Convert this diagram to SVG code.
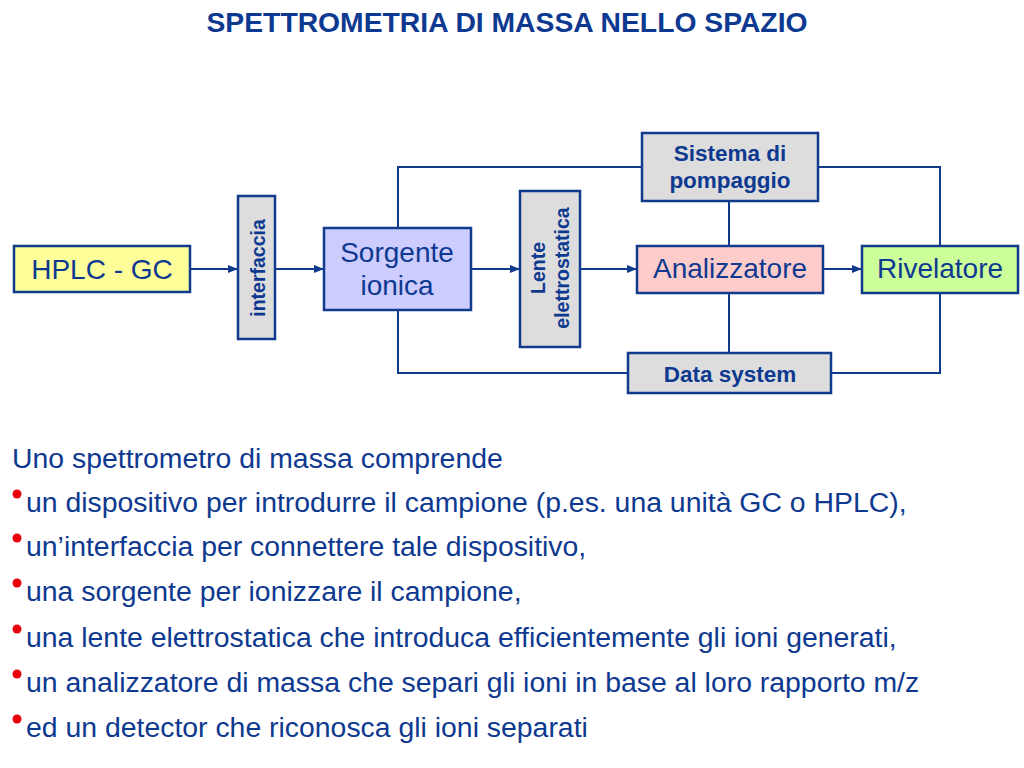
<svg xmlns="http://www.w3.org/2000/svg" width="1024" height="768" viewBox="0 0 1024 768">
<defs>
<marker id="arr" markerWidth="10" markerHeight="8" refX="9" refY="4" orient="auto" markerUnits="userSpaceOnUse">
<path d="M0,0 L10,4 L0,8 Z" fill="#103A8C"/>
</marker>
<style>
.box{stroke:#103A8C;stroke-width:2.5}
.ln{stroke:#103A8C;stroke-width:2;fill:none}
.t{font-family:"Liberation Sans",Arial,sans-serif;fill:#0E3990}
.big{font-size:28px;text-anchor:middle}
.bold{font-weight:bold;text-anchor:middle}
.body{font-size:28.4px}
.dot{fill:#E8000D}
</style>
</defs>
<rect width="1024" height="768" fill="#FFFFFF"/>
<text class="t" x="507" y="32" font-size="28.3" font-weight="bold" text-anchor="middle">SPETTROMETRIA DI MASSA NELLO SPAZIO</text>

<g id="connectors">
<path class="ln" d="M398,228 V167 H642"/>
<path class="ln" d="M818,167 H940 V246"/>
<path class="ln" d="M398,310 V373 H628"/>
<path class="ln" d="M831,373 H940 V293"/>
<path class="ln" d="M729,201 V246"/>
<path class="ln" d="M729,293 V353"/>
<path class="ln" d="M190,269 H237" marker-end="url(#arr)"/>
<path class="ln" d="M275,269 H323" marker-end="url(#arr)"/>
<path class="ln" d="M471,269 H519" marker-end="url(#arr)"/>
<path class="ln" d="M580,269 H636" marker-end="url(#arr)"/>
<path class="ln" d="M823,269 H861" marker-end="url(#arr)"/>
</g>

<g id="hplc">
<rect class="box" x="14" y="246" width="176" height="46" fill="#FFFF99"/>
<text class="t big" x="102" y="279">HPLC - GC</text>
</g>
<g id="interfaccia">
<rect class="box" x="238" y="196" width="37" height="143" fill="#DDDDDD"/>
<text class="t bold" font-size="19.5" transform="translate(265,268) rotate(-90)">interfaccia</text>
</g>
<g id="sorgente">
<rect class="box" x="324" y="228" width="147" height="82" fill="#CCCCFF"/>
<text class="t big" x="397" y="262">Sorgente</text>
<text class="t big" x="397" y="295">ionica</text>
</g>
<g id="lente">
<rect class="box" x="520" y="191" width="60" height="156" fill="#DDDDDD"/>
<text class="t bold" font-size="19.5" transform="translate(545,268) rotate(-90)">Lente</text>
<text class="t bold" font-size="19.5" transform="translate(569,268) rotate(-90)">elettrostatica</text>
</g>
<g id="sistema">
<rect class="box" x="642" y="133" width="176" height="68" fill="#DDDDDD"/>
<text class="t bold" font-size="22.5" x="730" y="161">Sistema di</text>
<text class="t bold" font-size="22.5" x="730" y="188">pompaggio</text>
</g>
<g id="analizzatore">
<rect class="box" x="637" y="246" width="186" height="47" fill="#FFCCCC"/>
<text class="t big" x="730" y="278">Analizzatore</text>
</g>
<g id="rivelatore">
<rect class="box" x="862" y="246" width="156" height="47" fill="#CCFF99"/>
<text class="t big" x="940" y="278">Rivelatore</text>
</g>
<g id="datasystem">
<rect class="box" x="628" y="353" width="203" height="40" fill="#DDDDDD"/>
<text class="t bold" font-size="22.5" x="730" y="382">Data system</text>
</g>

<g id="testo">
<text class="t body" x="12" y="468">Uno spettrometro di massa comprende</text>
<circle class="dot" cx="17" cy="494" r="4.5"/>
<text class="t body" x="26" y="512">un dispositivo per introdurre il campione (p.es. una unità GC o HPLC),</text>
<circle class="dot" cx="17" cy="538" r="4.5"/>
<text class="t body" x="26" y="556">un’interfaccia per connettere tale dispositivo,</text>
<circle class="dot" cx="17" cy="583" r="4.5"/>
<text class="t body" x="26" y="601">una sorgente per ionizzare il campione,</text>
<circle class="dot" cx="17" cy="629" r="4.5"/>
<text class="t body" x="26" y="647">una lente elettrostatica che introduca efficientemente gli ioni generati,</text>
<circle class="dot" cx="17" cy="674" r="4.5"/>
<text class="t body" x="26" y="692">un analizzatore di massa che separi gli ioni in base al loro rapporto m/z</text>
<circle class="dot" cx="17" cy="719" r="4.5"/>
<text class="t body" x="26" y="737">ed un detector che riconosca gli ioni separati</text>
</g>
</svg>
